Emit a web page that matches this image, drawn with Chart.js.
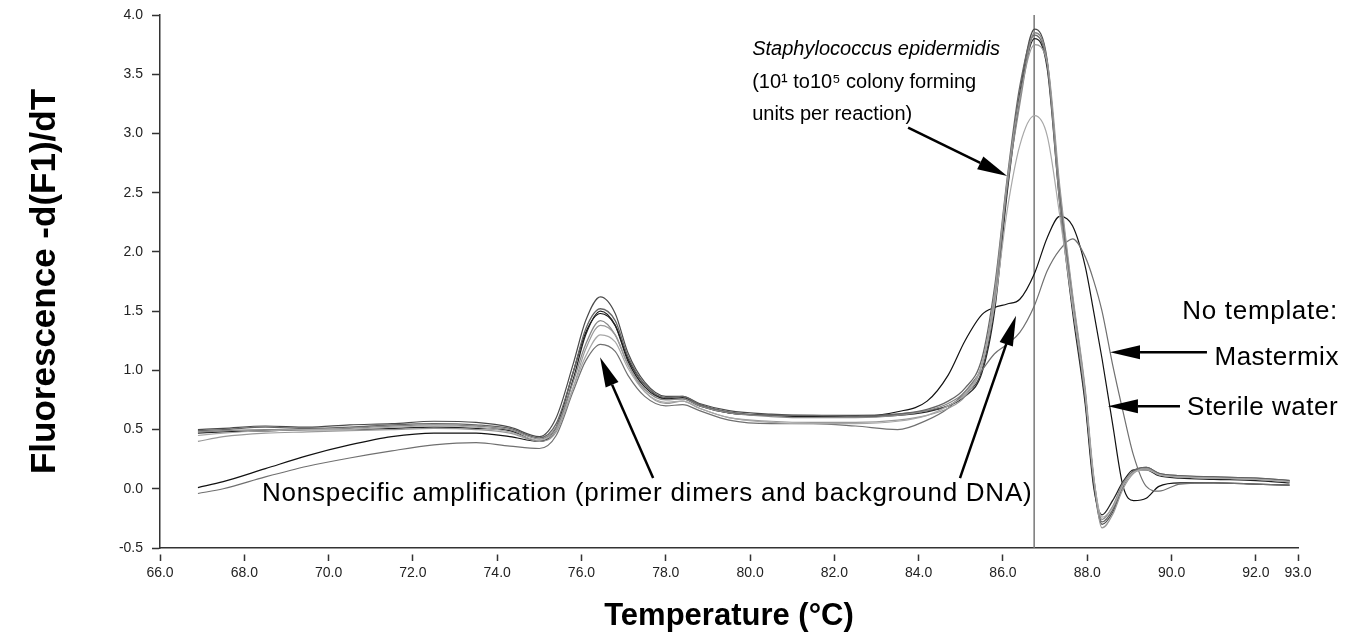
<!DOCTYPE html>
<html>
<head>
<meta charset="utf-8">
<script src="https://cdn.jsdelivr.net/npm/chart.js@4.4.1/dist/chart.umd.min.js"></script>
<style>
  html, body { margin: 0; padding: 0; background: #fff; }
</style>
</head>
<body>
<canvas id="myChart" width="1359" height="640"></canvas>
<script>
// Nhiệt độ lấy mẫu (°C)
const temps = [
  66.9, 67.5, 68.5, 69.5, 70.5, 71.5, 72.5, 73.5, 74.3, 75.0,
  75.4, 75.8, 76.1, 76.45, 76.8, 77.1, 77.5, 78.0, 78.4, 78.8,
  79.5, 80.5, 81.5, 82.5, 83.5, 84.2, 84.7, 85.1, 85.5, 85.8,
  86.1, 86.4, 86.75, 87.05, 87.35, 87.65, 87.95, 88.15, 88.35, 88.6,
  88.85, 89.1, 89.4, 89.7, 90.2, 91.0, 92.0, 92.8
];

// S. epidermidis (10^1 - 10^5 CFU)
const pos1 = [
  0.50, 0.51, 0.53, 0.52, 0.54, 0.55, 0.57, 0.56, 0.52, 0.44,
  0.60, 1.05, 1.42, 1.62, 1.48, 1.15, 0.90, 0.78, 0.78, 0.72,
  0.66, 0.63, 0.62, 0.62, 0.63, 0.66, 0.70, 0.80, 1.00, 1.55,
  2.55, 3.35, 3.88, 3.62, 2.45, 1.55, 0.75, 0.05, -0.30, -0.20,
  0.02, 0.15, 0.18, 0.13, 0.11, 0.10, 0.09, 0.07
];
const pos2 = [
  0.48, 0.49, 0.50, 0.50, 0.51, 0.53, 0.54, 0.53, 0.50, 0.42,
  0.52, 0.90, 1.22, 1.42, 1.30, 1.05, 0.84, 0.75, 0.76, 0.70,
  0.64, 0.61, 0.60, 0.60, 0.62, 0.66, 0.72, 0.82, 1.05, 1.60,
  2.55, 3.25, 3.85, 3.60, 2.40, 1.55, 0.80, 0.10, -0.26, -0.15,
  0.05, 0.14, 0.17, 0.12, 0.10, 0.09, 0.08, 0.06
];
const pos3 = [
  0.47, 0.48, 0.49, 0.50, 0.50, 0.51, 0.52, 0.51, 0.49, 0.40,
  0.50, 0.92, 1.30, 1.50, 1.38, 1.08, 0.86, 0.76, 0.77, 0.71,
  0.64, 0.62, 0.61, 0.61, 0.62, 0.65, 0.70, 0.78, 0.98, 1.50,
  2.50, 3.30, 3.80, 3.55, 2.40, 1.50, 0.72, 0.02, -0.22, -0.10,
  0.06, 0.16, 0.16, 0.11, 0.09, 0.08, 0.07, 0.05
];
const pos4 = [
  0.40, 0.44, 0.47, 0.48, 0.49, 0.50, 0.51, 0.50, 0.47, 0.40,
  0.48, 0.85, 1.18, 1.38, 1.30, 1.05, 0.82, 0.72, 0.74, 0.68,
  0.60, 0.57, 0.56, 0.56, 0.58, 0.62, 0.68, 0.78, 1.05, 1.65,
  2.60, 3.30, 3.75, 3.60, 2.55, 1.65, 0.85, 0.12, -0.33, -0.22,
  0.00, 0.13, 0.17, 0.12, 0.10, 0.09, 0.08, 0.06
];
const pos5 = [
  0.49, 0.50, 0.52, 0.51, 0.52, 0.54, 0.55, 0.54, 0.51, 0.43,
  0.55, 0.98, 1.35, 1.52, 1.42, 1.12, 0.88, 0.77, 0.78, 0.71,
  0.65, 0.62, 0.62, 0.61, 0.63, 0.67, 0.74, 0.85, 1.10, 1.70,
  2.62, 3.40, 3.83, 3.58, 2.50, 1.62, 0.82, 0.08, -0.28, -0.18,
  0.03, 0.15, 0.18, 0.13, 0.11, 0.10, 0.09, 0.07
];
const pos6 = [
  0.45, 0.47, 0.49, 0.50, 0.50, 0.52, 0.53, 0.52, 0.48, 0.41,
  0.50, 0.85, 1.12, 1.30, 1.24, 1.02, 0.82, 0.73, 0.74, 0.68,
  0.60, 0.56, 0.55, 0.55, 0.57, 0.62, 0.70, 0.80, 1.05, 1.55,
  2.35, 2.90, 3.15, 2.98, 2.30, 1.55, 0.80, 0.10, -0.24, -0.16,
  0.03, 0.14, 0.16, 0.12, 0.10, 0.09, 0.08, 0.06
];
// No template
const sterileWater = [
  0.01, 0.06, 0.17, 0.28, 0.37, 0.44, 0.47, 0.47, 0.44, 0.40,
  0.52, 0.98, 1.32, 1.48, 1.38, 1.10, 0.88, 0.76, 0.76, 0.70,
  0.64, 0.62, 0.61, 0.61, 0.65, 0.74, 0.96, 1.25, 1.47, 1.53,
  1.56, 1.60, 1.82, 2.12, 2.30, 2.22, 1.88, 1.50, 1.10, 0.55,
  0.02, -0.10, -0.08, 0.02, 0.05, 0.05, 0.04, 0.03
];
const mastermix = [
  -0.04, 0.00, 0.10, 0.19, 0.26, 0.32, 0.37, 0.39, 0.36, 0.34,
  0.45, 0.82, 1.08, 1.22, 1.16, 0.96, 0.78, 0.70, 0.71, 0.66,
  0.58, 0.55, 0.55, 0.53, 0.50, 0.58, 0.68, 0.82, 1.00, 1.14,
  1.22, 1.32, 1.55, 1.84, 2.02, 2.11, 1.96, 1.76, 1.50, 1.05,
  0.65, 0.28, 0.02, -0.02, 0.04, 0.05, 0.04, 0.03
];

const xTicks = [66, 68, 70, 72, 74, 76, 78, 80, 82, 84, 86, 88, 90, 92, 93];
const yTicks = [-0.5, 0, 0.5, 1.0, 1.5, 2.0, 2.5, 3.0, 3.5, 4.0];
const markerTemp = 86.74;

// Chú thích và mũi tên (tọa độ dữ liệu)
const notes = [
  { text: "Staphylococcus epidermidis", x: 80.05, y: 3.66, font: "italic 20px 'Liberation Sans'", align: "left", spacing: 0 },
  { text: "(10\u00b9 to10\u2075 colony forming", x: 80.05, y: 3.38, font: "20px 'Liberation Sans'", align: "left", spacing: 0 },
  { text: "units per reaction)", x: 80.05, y: 3.11, font: "20px 'Liberation Sans'", align: "left", spacing: 0 },
  { text: "Nonspecific amplification (primer dimers and background DNA)", x: 68.42, y: -0.10, font: "26px 'Liberation Sans'", align: "left", spacing: 0.75 },
  { text: "No template:", x: 93.95, y: 1.43, font: "26px 'Liberation Sans'", align: "right", spacing: 0.7 },
  { text: "Mastermix", x: 93.97, y: 1.045, font: "26px 'Liberation Sans'", align: "right", spacing: 0.5 },
  { text: "Sterile water", x: 93.95, y: 0.623, font: "26px 'Liberation Sans'", align: "right", spacing: 0.5 }
];
const arrows = [
  { from: [83.75, 3.05], to: [86.10, 2.64] },
  { from: [77.70, 0.09], to: [76.44, 1.11] },
  { from: [84.98, 0.09], to: [86.31, 1.46] },
  { from: [90.84, 1.152], to: [88.54, 1.152] },
  { from: [90.20, 0.697], to: [88.49, 0.697] }
];

function toPoints(vals) {
  return temps.map((t, i) => ({ x: t, y: vals[i] }));
}

function curve(vals, color, width) {
  return {
    data: toPoints(vals),
    borderColor: color,
    borderWidth: width,
    pointRadius: 0,
    cubicInterpolationMode: "monotone",
    fill: false
  };
}

// Vẽ chữ và mũi tên lên biểu đồ
const notePlugin = {
  id: "notes",
  afterDatasetsDraw(chart) {
    const ctx = chart.ctx;
    const xs = chart.scales.x;
    const ys = chart.scales.y;
    ctx.save();
    ctx.fillStyle = "#000";
    ctx.textBaseline = "alphabetic";
    notes.forEach((n) => {
      ctx.font = n.font;
      ctx.textAlign = n.align;
      if ("letterSpacing" in ctx) ctx.letterSpacing = n.spacing + "px";
      ctx.fillText(n.text, xs.getPixelForValue(n.x), ys.getPixelForValue(n.y));
    });
    if ("letterSpacing" in ctx) ctx.letterSpacing = "0px";
    ctx.strokeStyle = "#000";
    ctx.lineWidth = 2.5;
    arrows.forEach((a) => {
      const x1 = xs.getPixelForValue(a.from[0]);
      const y1 = ys.getPixelForValue(a.from[1]);
      const x2 = xs.getPixelForValue(a.to[0]);
      const y2 = ys.getPixelForValue(a.to[1]);
      const ang = Math.atan2(y2 - y1, x2 - x1);
      const len = 30, half = 7;
      const bx = x2 - len * Math.cos(ang);
      const by = y2 - len * Math.sin(ang);
      ctx.beginPath();
      ctx.moveTo(x1, y1);
      ctx.lineTo(bx, by);
      ctx.stroke();
      ctx.beginPath();
      ctx.moveTo(x2, y2);
      ctx.lineTo(bx + half * Math.sin(ang), by - half * Math.cos(ang));
      ctx.lineTo(bx - half * Math.sin(ang), by + half * Math.cos(ang));
      ctx.closePath();
      ctx.fill();
    });
    ctx.restore();
  }
};

document.addEventListener("DOMContentLoaded", function () {
  new Chart("myChart", {
    type: "line",
    data: {
      datasets: [
        curve(pos6, "#a8a8a8", 1.2),
        curve(pos4, "#999999", 1.2),
        curve(pos2, "#888888", 1.3),
        curve(mastermix, "#707070", 1.2),
        curve(pos5, "#666666", 1.3),
        curve(pos1, "#4a4a4a", 1.2),
        curve(pos3, "#222222", 1.3),
        curve(sterileWater, "#111111", 1.2),
        {
          data: [{ x: markerTemp, y: yTicks[0] }, { x: markerTemp, y: yTicks[yTicks.length - 1] }],
          borderColor: "#777777",
          borderWidth: 1.5,
          pointRadius: 0
        }
      ]
    },
    options: {
      responsive: false,
      animation: false,
      devicePixelRatio: 1,
      layout: { padding: { top: 15, right: 61, left: 0, bottom: 0 } },
      plugins: { legend: { display: false }, tooltip: { enabled: false } },
      scales: {
        x: {
          type: "linear",
          min: 66,
          max: 93,
          afterBuildTicks: (scale) => { scale.ticks = xTicks.map((v) => ({ value: v })); },
          afterFit: (scale) => { scale.height = 92; },
          ticks: {
            autoSkip: false,
            maxRotation: 0,
            padding: 4,
            color: "#222",
            font: { family: "'Liberation Sans'", size: 14 },
            callback: (v) => Number(v).toFixed(1)
          },
          grid: {
            drawOnChartArea: false,
            tickLength: 13,
            tickBorderDash: [0, 6, 7, 100],
            tickColor: "#333",
            tickWidth: 1.5
          },
          border: { color: "#333", width: 1.5 },
          title: {
            display: true,
            text: "Temperature (\u00b0C)",
            color: "#000",
            font: { family: "'Liberation Sans'", size: 31, weight: "bold" },
            padding: { top: 0, bottom: 5 }
          }
        },
        y: {
          type: "linear",
          min: -0.5,
          max: 4.0,
          afterBuildTicks: (scale) => { scale.ticks = yTicks.map((v) => ({ value: v })); },
          afterFit: (scale) => { scale.width = 160; },
          ticks: {
            padding: 5,
            color: "#222",
            font: { family: "'Liberation Sans'", size: 14 },
            callback: (v) => Number(v).toFixed(1)
          },
          grid: {
            drawOnChartArea: false,
            tickLength: 12,
            tickBorderDash: [0, 4, 8, 100],
            tickColor: "#333",
            tickWidth: 1.5
          },
          border: { color: "#333", width: 1.5 },
          title: {
            display: true,
            text: "Fluorescence -d(F1)/dT",
            color: "#000",
            font: { family: "'Liberation Sans'", size: 35, weight: "bold" },
            padding: { top: 24, bottom: 0 }
          }
        }
      }
    },
    plugins: [notePlugin]
  });
});
</script>
</body>
</html>
